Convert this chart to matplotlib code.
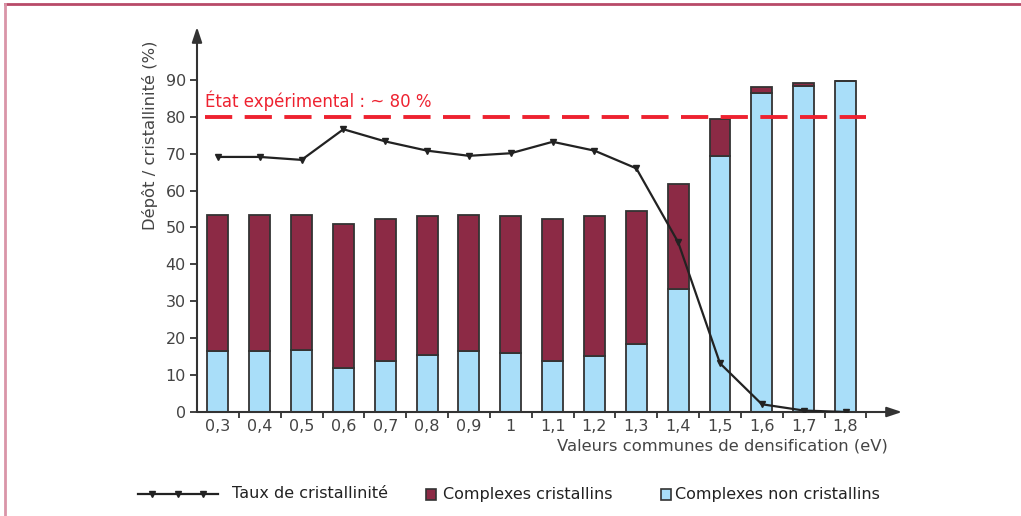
import matplotlib.pyplot as plt
import numpy as np
from matplotlib.lines import Line2D
from matplotlib.patches import Rectangle

# Valeurs communes de densification (eV)
categories = ['0,3', '0,4', '0,5', '0,6', '0,7', '0,8', '0,9', '1',
              '1,1', '1,2', '1,3', '1,4', '1,5', '1,6', '1,7', '1,8']
# Complexes non cristallins (%)
non_cristallins = [16.5, 16.5, 16.8, 11.8, 13.9, 15.5, 16.5, 15.9,
                   13.7, 15.3, 18.3, 33.2, 69.3, 86.4, 88.4, 89.6]
# Complexes cristallins (%)
cristallins = [36.9, 36.9, 36.6, 39.2, 38.3, 37.6, 36.9, 37.2,
               38.6, 37.7, 36.1, 28.7, 10.1, 1.6, 0.7, 0.0]
# Taux de cristallinité (%)
taux = [69.1, 69.1, 68.3, 76.6, 73.3, 70.8, 69.4, 70.1,
        73.2, 70.8, 66.0, 46.0, 13.2, 2.1, 0.4, 0.0]
experimental = 80

maroon = '#8c2a45'
light_blue = '#a9def9'
edge = '#333333'
text_col = '#444444'
red = '#ee2230'

fig = plt.figure(figsize=(10.21, 5.16), dpi=100)
ax = fig.add_axes([197 / 1021, 1 - 412 / 516, 705 / 1021, 385 / 516])

x = np.arange(len(categories)) + 0.5
ax.bar(x, non_cristallins, width=0.5, color=light_blue, edgecolor=edge, linewidth=1.3, zorder=2)
ax.bar(x, cristallins, width=0.5, bottom=non_cristallins, color=maroon,
       edgecolor=edge, linewidth=1.3, zorder=2)
ax.plot(x, taux, color='#222222', lw=1.6, marker='v', ms=5, zorder=4)

# ligne de l'état expérimental
ax.plot([0.2, 16], [experimental, experimental], color=red, lw=2.8,
        dashes=(7, 3.2), zorder=3)
ax.text(0.2, experimental + 4.4, 'État expérimental : ~ 80 %', color=red,
        fontsize=12, va='center', ha='left')

ax.set_xlim(0, 16.85)
ax.set_ylim(0, 104.3)
for s in ax.spines.values():
    s.set_visible(False)

# axes avec flèches
ax.annotate('', xy=(1, 0), xytext=(0, 0), xycoords='axes fraction',
            arrowprops=dict(arrowstyle='-|>,head_length=0.9,head_width=0.3',
                            color='#333333', lw=1.5, shrinkA=0, shrinkB=0))
ax.annotate('', xy=(0, 1), xytext=(0, 0), xycoords='axes fraction',
            arrowprops=dict(arrowstyle='-|>,head_length=0.9,head_width=0.3',
                            color='#333333', lw=1.5, shrinkA=0, shrinkB=0))

ax.set_yticks(range(0, 100, 10))
ax.tick_params(axis='y', length=5, width=1.3, color='#333333', labelsize=11.5,
               labelcolor=text_col, pad=3)
ax.set_xticks(x)
ax.set_xticklabels(categories)
ax.tick_params(axis='x', which='major', length=0, labelsize=11.5,
               labelcolor=text_col, pad=5)
ax.set_xticks(np.arange(1, 17), minor=True)
ax.tick_params(axis='x', which='minor', length=4, width=1.3, color='#333333')

ax.set_ylabel('Dépôt / cristallinité (%)', fontsize=11.8, color=text_col)
ax.yaxis.set_label_coords(-0.056, 0.72)
fig.text(888 / 1021, 1 - 446 / 516, 'Valeurs communes de densification (eV)',
         fontsize=11.8, color=text_col, ha='right', va='center')

# légende en bas
ly = 1 - 494 / 516
fig.add_artist(Line2D([138 / 1021, 218 / 1021], [ly, ly], color='#222222', lw=1.6))
fig.add_artist(Line2D([152 / 1021, 178 / 1021, 203 / 1021], [ly, ly, ly], color='#222222',
                      lw=0, marker='v', ms=5))
fig.text(232 / 1021, ly, 'Taux de cristallinité', fontsize=11.5, color='#222222', va='center')
fig.add_artist(Rectangle((426 / 1021, ly - 5.5 / 516), 10 / 1021, 11 / 516,
                         facecolor=maroon, edgecolor=edge, lw=1.2))
fig.text(443 / 1021, ly, 'Complexes cristallins', fontsize=11.5, color='#222222', va='center')
fig.add_artist(Rectangle((661 / 1021, ly - 5.5 / 516), 10 / 1021, 11 / 516,
                         facecolor=light_blue, edgecolor=edge, lw=1.2))
fig.text(675 / 1021, ly, 'Complexes non cristallins', fontsize=11.5, color='#222222', va='center')

# cadre
fig.add_artist(Line2D([5 / 1021, 1], [1 - 4 / 516, 1 - 4 / 516], color='#b84a68', lw=2))
fig.add_artist(Line2D([5 / 1021, 5 / 1021], [0, 1 - 4 / 516], color='#d995a8', lw=2))

fig.savefig('out.png', dpi=100)
